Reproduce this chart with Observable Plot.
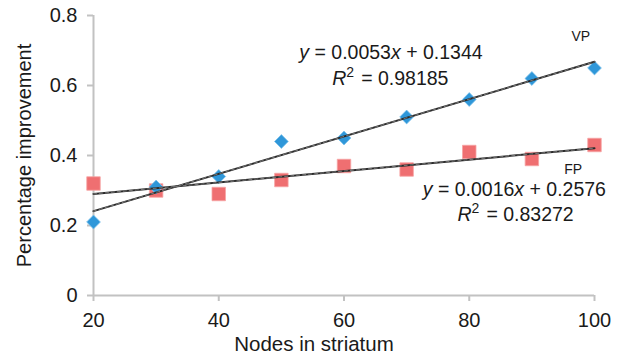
<!DOCTYPE html>
<html><head><meta charset="utf-8">
<script src="https://cdn.jsdelivr.net/npm/d3@7"></script>
<script src="https://cdn.jsdelivr.net/npm/@observablehq/plot@0.6"></script>
<style>
html,body{margin:0;padding:0;background:#fff;}
</style></head><body><div id="chart"></div>
<script>
const nodes = [20, 30, 40, 50, 60, 70, 80, 90, 100];
const vpValues = [0.21, 0.31, 0.34, 0.44, 0.45, 0.51, 0.56, 0.62, 0.65];
const fpValues = [0.32, 0.30, 0.29, 0.33, 0.37, 0.36, 0.41, 0.39, 0.43];
const xTicks = [20, 40, 60, 80, 100];
const xTickLabels = ["20", "40", "60", "80", "100"];
const yTicks = [0, 0.2, 0.4, 0.6, 0.8];
const yTickLabels = ["0", "0.2", "0.4", "0.6", "0.8"];
const xTitle = "Nodes in striatum";
const yTitle = "Percentage improvement";
const seriesNames = ["VP", "FP"];
const equations = ["y = 0.0053x + 0.1344", "y = 0.0016x + 0.2576"];
const rSquared = ["R2 = 0.98185", "R2 = 0.83272"];
// annotation anchors, in data units
const nameX = [97.8, 96.6], nameY = [0.74, 0.36];
const eqX = [67.5, 87.2], eqY = [0.693, 0.302];
const r2X = [67.4, 87.4], r2Y = [0.618, 0.231];

const vp = nodes.map((x, i) => ({x, y: vpValues[i]}));
const fp = nodes.map((x, i) => ({x, y: fpValues[i]}));

const font = "'Liberation Sans', Arial, Helvetica, sans-serif";
const axisGray = "#c2c2c2";

const chart = Plot.plot({
  width: 623, height: 358,
  marginLeft: 93, marginRight: 29, marginTop: 15, marginBottom: 63,
  style: {fontFamily: font, fontSize: "20px", color: "#1a1a1a", background: "#fff", overflow: "visible"},
  x: {domain: [20, 100]},
  y: {domain: [0, 0.8]},
  marks: [
    Plot.axisX({ticks: xTicks, tickFormat: d => xTickLabels[xTicks.indexOf(d)], tickSize: 6, tickPadding: 11,
      stroke: axisGray, strokeWidth: 2, fill: "#1a1a1a", fontSize: 20, label: null}),
    Plot.axisY({ticks: yTicks, tickFormat: d => yTickLabels[yTicks.indexOf(d)], tickSize: 6, tickPadding: 10,
      stroke: axisGray, strokeWidth: 2, fill: "#1a1a1a", fontSize: 20, label: null}),
    Plot.ruleX([20], {y1: 0, y2: 0.8, stroke: axisGray, strokeWidth: 2}),
    Plot.ruleY([0], {x1: 20, x2: 100, stroke: axisGray, strokeWidth: 2}),
    Plot.text([xTitle], {frameAnchor: "bottom", textAnchor: "middle", lineAnchor: "middle", dx: -30, dy: 49, fontSize: 20.5, fill: "#1a1a1a"}),
    Plot.text([yTitle], {frameAnchor: "left", textAnchor: "middle", lineAnchor: "middle", rotate: -90, dx: -69, fontSize: 20, fill: "#1a1a1a"}),
    Plot.dot(fp, {x: "x", y: "y", symbol: "square", r: 7.6, fill: "#ef6f71", stroke: "#f6a3a3", strokeWidth: 0.8}),
    Plot.dot(vp, {x: "x", y: "y", symbol: "diamond2", r: 6.2, fill: "#2f97d9", stroke: "#7cc0ea", strokeWidth: 0.8}),
    Plot.linearRegressionY(vp, {x: "x", y: "y", ci: 0, stroke: "#2a2a2a", strokeWidth: 2}),
    Plot.linearRegressionY(fp, {x: "x", y: "y", ci: 0, stroke: "#2a2a2a", strokeWidth: 2}),
    Plot.linearRegressionY(vp, {x: "x", y: "y", ci: 0, stroke: "#9a9a9a", strokeWidth: 0.7, strokeDasharray: "3,3"}),
    Plot.linearRegressionY(fp, {x: "x", y: "y", ci: 0, stroke: "#9a9a9a", strokeWidth: 0.7, strokeDasharray: "3,3"}),
    Plot.text(seriesNames, {x: (d, i) => nameX[i], y: (d, i) => nameY[i], text: d => d, fontSize: 14, fill: "#1a1a1a"}),
    Plot.text(equations, {x: (d, i) => eqX[i], y: (d, i) => eqY[i], text: d => d, fontSize: 19.5, fill: "#1a1a1a", className: "eqn"}),
    Plot.text(rSquared, {x: (d, i) => r2X[i], y: (d, i) => r2Y[i], text: d => d, fontSize: 19.5, fill: "#1a1a1a", className: "eqn"})
  ]
});

// italic variables and superscript in equation labels
d3.select(chart).selectAll("g.eqn text").each(function () {
  const s = this.textContent;
  const el = d3.select(this);
  el.text("");
  const parts = s.split(/(R2|x|y)/).filter(p => p !== "");
  parts.forEach(p => {
    if (p === "R2") {
      el.append("tspan").attr("font-style", "italic").text("R");
      el.append("tspan").attr("font-size", 14).attr("dy", -8).text("2");
      el.append("tspan").attr("dy", 8).text("\u200A");
    } else if (p === "x" || p === "y") {
      el.append("tspan").attr("font-style", "italic").text(p);
    } else {
      el.append("tspan").text(p);
    }
  });
});

document.getElementById("chart").appendChild(chart);
</script>
</body></html>
